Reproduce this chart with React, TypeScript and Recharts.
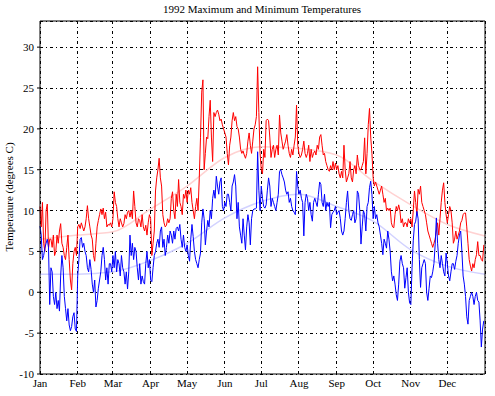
import React from 'react';
import { LineChart, Line, XAxis, YAxis, CartesianGrid } from 'recharts';

// 1992 daily temperatures (deg C), one line per month
const months = ['Jan', 'Feb', 'Mar', 'Apr', 'May', 'Jun', 'Jul', 'Aug', 'Sep', 'Oct', 'Nov', 'Dec'];
const monthStart = [0, 31, 60, 91, 121, 152, 182, 213, 244, 274, 305, 335];
const tempTicks = [-10, -5, 0, 5, 10, 15, 20, 25, 30];

const maxTemp = [
  10.5, 8, 11, 6, 5, 10, 10.8, 5.4, 6.5, 6.5, 5.5, 7, 4.5, 5, 7, 6, 7.5, 8.4, 6, 5.5, 4.5, 4, 5.5, 7, 4, 1.5, 0.3, 3.5, 5, 5.5, 4.5,
  8, 8.3, 7.8, 8.5, 8, 7.5, 8, 9, 10.6, 9, 8, 7, 6.5, 4.5, 3.8, 6, 8, 8.8, 9.5, 10.2, 9.5, 10.3, 9, 9.8, 8, 8.3, 8.2, 8.5, 8,
  9, 12.3, 11, 10.5, 9, 8, 9, 8.5, 8, 8.4, 9.5, 9, 9.8, 10, 9.2, 10, 9, 12.4, 10.5, 8.5, 8, 9, 8.8, 8, 9.5, 8, 7.5, 8.2, 7, 8.5, 9.5,
  9, 4.5, 6, 7.5, 12.4, 14, 15, 16.4, 14, 13, 9.5, 8.5, 8, 8.2, 9, 8.5, 9, 11.5, 12.3, 10, 9, 12, 10.5, 13.8, 11, 10.5, 9.5, 12, 11.5, 12.5,
  11, 12.5, 12, 12.8, 11, 10, 9, 10.5, 11.5, 10, 14, 18.9, 24.5, 26, 15, 17, 19, 18.8, 21.5, 23.5, 19, 16, 22, 21.5, 22, 22.3, 21.8, 21, 21.2, 20.5, 20,
  19.5, 19, 17, 15.6, 18, 19, 21, 22, 21, 21.5, 20.3, 20, 19, 17.5, 17, 17.3, 16.8, 16.4, 17, 18.5, 19.5, 18, 17, 18.5, 20, 20.5, 21.5, 27.6, 22, 17,
  15, 14.5, 17.5, 16.5, 21, 21.2, 21, 19, 16.5, 17.5, 18, 16.5, 17.5, 18, 16.8, 21.7, 19.5, 18.5, 17.5, 18, 18.5, 19.3, 18, 17, 16.5, 17.5, 16.8, 18, 19, 22.9, 18,
  17, 16.5, 16.8, 17.5, 18.5, 17, 16.5, 17, 18, 16, 17.5, 16.5, 17, 17.3, 16.8, 18, 17.5, 19, 19.3, 18, 16.8, 17, 16, 15.5, 15, 14.8, 15.5, 15, 16, 15, 15.8,
  15, 15.5, 14.5, 14, 14.8, 14, 18, 15, 13.5, 14, 14.5, 16, 14, 13.5, 15, 15.5, 14.5, 16.8, 15.5, 15, 15, 15.5, 16, 18.9, 14.5, 17, 20.5, 22.5, 19, 17,
  14, 13, 13.5, 13, 12.5, 12, 12.5, 13, 12, 11, 11.5, 10, 10.3, 10, 10.3, 8.5, 8, 7.9, 9.5, 10.5, 10, 10.7, 10, 8.5, 9, 8, 8.5, 8.5, 8, 9, 8.5,
  9, 8, 10, 12.4, 11, 9.5, 12.6, 12, 13, 11, 10.5, 10, 9.5, 8.5, 7.5, 7, 6.5, 6, 5.5, 6, 6.5, 7.5, 8.5, 7, 9, 11, 12.5, 13.4, 11, 9.5,
  8.5, 9.5, 10.5, 10, 8.5, 6, 6.5, 7.5, 6.5, 7, 7.5, 8.5, 8.8, 9.5, 9.7, 9.7, 8, 6, 4, 3.2, 2.6, 3.5, 3, 4, 4.6, 6.2, 4.5, 4.5, 4, 3.8, 5.8,
];

const minTemp = [
  8.1, 7, 4, 4.5, 5.4, 6, 6.5, 5.5, -1.5, 3, 2.5, -0.5, -1.5, 0, -2, -1, -2.3, 2, 4.5, 3, -0.5, -2, -3.5, -2, -4, -4.7, -4.2, -3, -2.5, -4.5, -4.8,
  2, 4, 6.5, 6.7, 5.5, 6, 5, 4.5, 3, 2.5, 4, 2.8, 1, 0, 1.5, -1.8, -1, 0.5, 1.5, 2.5, 4.5, 5.5, 4, 1.5, 3, 1, 3.5, 3.5, 2.5,
  4.5, 3, 5, 2.5, 4, 3.5, 2, 4.5, 3, 2.5, 1, 2.5, 0.4, 2.5, 7, 4.5, 6, 4, 5.5, 5, 3, 1.5, 3.5, 1, 2, 1.3, 1, 3.5, 5, 3, 4,
  1.5, 1.3, 3, 4.5, 5, 6, 6.5, 5.5, 7.5, 8, 5.5, 6.5, 4.5, 5.5, 7, 6, 7.5, 7, 6, 7.5, 6.5, 7.8, 8, 7.5, 8.3, 6.5, 5.5, 7, 5.5, 5,
  5.8, 4.5, 3.8, 6.5, 8.3, 6.8, 5, 4, 3.5, 3, 4, 4.8, 8.5, 10.2, 9, 5.8, 7.5, 8.8, 8, 10, 9, 11.5, 12.5, 11.5, 14.2, 13, 12, 13.5, 14, 10.5, 10,
  11, 10.5, 12, 12, 11, 10, 13, 13.5, 14.4, 13, 9, 11, 8, 7, 6, 9, 7, 5.2, 8, 9.5, 8.5, 5.8, 9, 10, 10.2, 10.2, 10.3, 17.2, 12.5, 10,
  13, 11.5, 10.5, 10.3, 10.7, 12.5, 14, 13, 10.5, 11.5, 11, 10.5, 10, 11, 12, 14.8, 15, 14.4, 14, 13.5, 12.5, 12, 12.3, 11, 11.5, 10.5, 10, 9.8, 9.5, 14.8, 13,
  12, 12.5, 11.5, 11, 6.9, 11, 12, 11.5, 10, 11, 9.5, 8.7, 11, 11.5, 11, 10.5, 12, 13.5, 13.2, 11, 10.5, 12, 10, 11, 10.5, 11, 7.9, 9.5, 9.8, 10, 10.5,
  9.5, 9.8, 10, 9, 7.5, 7, 7.5, 9, 11, 12.4, 10, 9, 8.8, 9.5, 10, 8.5, 9, 12.4, 12, 10, 5.9, 8, 10, 9.5, 7.5, 10.5, 11, 12.8, 13.6, 12,
  9, 10.5, 9, 9.5, 8.5, 8, 7, 6, 4.6, 6.5, 6, 5.4, 7.5, 6.5, 5, 2.5, 1.4, 2, 1, -0.3, -1, 1, 3.8, 4.5, 3.5, 3, 0.5, 1.8, 3, 0, -1.3,
  -1.5, 3, 6.3, 8.3, 8.7, 9.9, 9, 4, 0.6, 3, 3.5, 4, 3.5, 0, -1, 0.5, 2, 1.8, 2.5, 3.5, 5.8, 9.1, 6, 4, 3, 4.5, 3.5, 2.5, 2, 4.8,
  3.5, 2, 1.4, 2.5, 3.5, 3.5, 2.8, 3.8, 4.5, 6, 7, 7.5, 5, 2, 1, -0.5, -3, -3.9, -1, -0.5, 0, -0.5, -1.5, -0.5, 0, -1, -1.2, -3.5, -6.7, -4.5, -3.5,
];

// faint seasonal curves, read at the month boundaries
const trendDays = [0, 31, 60, 91, 121, 152, 182, 213, 244, 274, 305, 335, 366];
const maxTrend = [6.5, 7, 7.4, 10.2, 13, 16.5, 17.8, 17.6, 16.8, 13.6, 10.7, 8.3, 6.9];
const minTrend = [2.2, 2.2, 2.5, 3.9, 6, 9.1, 11.1, 12, 10.5, 8.7, 5.2, 3.2, 2.2];

const daily = maxTemp.map((t, i) => ({ day: i, max: t, min: minTemp[i] }));
const maxTrendData = trendDays.map((d, i) => ({ day: d, v: maxTrend[i] }));
const minTrendData = trendDays.map((d, i) => ({ day: d, v: minTrend[i] }));

const font = '"Liberation Serif", "Times New Roman", serif';

const MonthTick = (props: any) => {
  const { x, y, payload } = props;
  const label = months[monthStart.indexOf(payload.value)];
  return (
    <text x={x} y={y + 13} textAnchor="middle" fontSize={11} fontFamily={font} fill="#000">
      {label}
    </text>
  );
};

const TempTick = (props: any) => {
  const { x, y, payload } = props;
  return (
    <text x={x} y={y + 4} textAnchor="end" fontSize={11} fontFamily={font} fill="#000">
      {payload.value}
    </text>
  );
};

const App = () => {
  return (
    <div style={{ position: 'absolute', left: 0, top: 0, width: 495, height: 396, background: '#fff' }}>
      <LineChart width={495} height={396} data={daily} margin={{ top: 0, right: 0, bottom: 0, left: 0 }}>
        <text x={262} y={13} textAnchor="middle" fontSize={11} fontFamily={font} fill="#000">
          1992 Maximum and Minimum Temperatures
        </text>
        <text
          x={13}
          y={197}
          transform="rotate(-90 13 197)"
          textAnchor="middle"
          fontSize={11}
          fontFamily={font}
          fill="#000"
        >
          Temperature (degrees C)
        </text>
        <CartesianGrid stroke="#000" strokeDasharray="3 3 1 3" strokeWidth={1} shapeRendering="crispEdges" />
        <XAxis
          dataKey="day"
          type="number"
          domain={[0, 366]}
          ticks={monthStart}
          height={22}
          axisLine={{ stroke: '#000' }}
          tickLine={false}
          tickSize={0}
          tickMargin={0}
          tick={<MonthTick />}
          interval={0}
        />
        <XAxis
          xAxisId="top"
          orientation="top"
          dataKey="day"
          type="number"
          domain={[0, 366]}
          ticks={monthStart}
          height={21}
          axisLine={{ stroke: '#000' }}
          tickLine={false}
          tick={false}
        />
        <YAxis
          type="number"
          domain={[-10, 33.2]}
          ticks={tempTicks}
          width={40}
          axisLine={{ stroke: '#000' }}
          tickLine={{ stroke: '#000' }}
          tickSize={3}
          tickMargin={3}
          tick={<TempTick />}
          interval={0}
          allowDataOverflow
        />
        <YAxis
          yAxisId="right"
          orientation="right"
          type="number"
          domain={[-10, 33.2]}
          ticks={tempTicks}
          width={10}
          axisLine={{ stroke: '#000' }}
          tickLine={{ stroke: '#000' }}
          tickSize={3}
          tick={false}
          interval={0}
        />
        <Line
          data={maxTrendData}
          dataKey="v"
          type="monotone"
          stroke="#ffd2d2"
          strokeWidth={1.5}
          dot={false}
          isAnimationActive={false}
        />
        <Line
          data={minTrendData}
          dataKey="v"
          type="monotone"
          stroke="#d2d2ff"
          strokeWidth={1.5}
          dot={false}
          isAnimationActive={false}
        />
        <Line dataKey="max" type="linear" stroke="#ff0000" strokeWidth={1} dot={false} isAnimationActive={false} />
        <Line dataKey="min" type="linear" stroke="#0000ff" strokeWidth={1} dot={false} isAnimationActive={false} />
      </LineChart>
    </div>
  );
};

export default App;
